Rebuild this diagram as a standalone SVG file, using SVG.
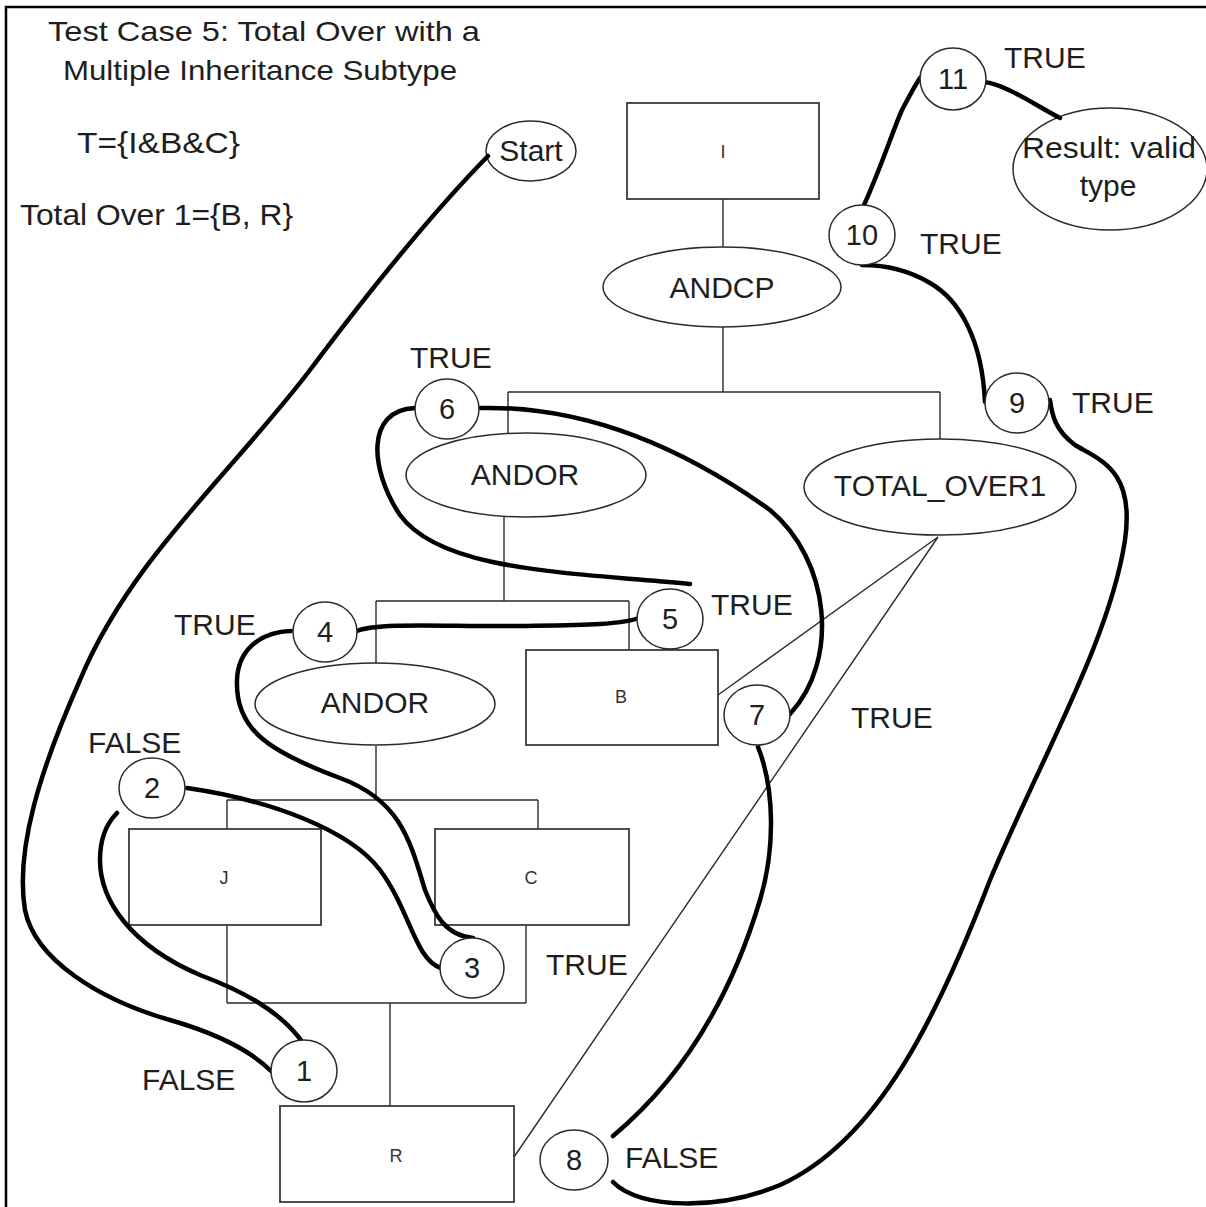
<svg xmlns="http://www.w3.org/2000/svg" width="1206" height="1207" viewBox="0 0 1206 1207">
<style>
text{font-family:"Liberation Sans",Arial,sans-serif;fill:#1e1e1e}
.big{font-size:30px}
.num{font-size:29px;text-anchor:middle}
.lab{font-size:30px;text-anchor:middle}
.box{fill:#fff;stroke:#3a3a3a;stroke-width:1.8}
.box-t{font-size:18px;text-anchor:middle;fill:#333}
.ell{fill:#fff;stroke:#2a2a2a;stroke-width:1.5}
.thin{fill:none;stroke:#2a2a2a;stroke-width:1.4}
.thick{fill:none;stroke:#000;stroke-width:4.5;stroke-linecap:round}
</style>
<rect width="1206" height="1207" fill="#fff"/>
<path d="M6,1207 V7 H1206" fill="none" stroke="#000" stroke-width="2.5"/>

<g id="title">
<text x="48" y="41" font-size="28" textLength="432" lengthAdjust="spacingAndGlyphs">Test Case 5: Total Over with a</text>
<text x="63" y="80" font-size="28" textLength="394" lengthAdjust="spacingAndGlyphs">Multiple Inheritance Subtype</text>
<text x="77" y="153" font-size="30" textLength="163" lengthAdjust="spacingAndGlyphs">T={I&amp;B&amp;C}</text>
<text x="20" y="225" font-size="30" textLength="273" lengthAdjust="spacingAndGlyphs">Total Over 1={B, R}</text>
</g>

<g id="tree-lines">
<path class="thin" d="M723,199 V247 M723,327 V392 M508,392 H940 M508,392 V437 M940,392 V439"/>
<path class="thin" d="M504,517 V601 M376,601 H629 M376,601 V663 M629,601 V650"/>
<path class="thin" d="M376,746 V800 M227,800 H538 M227,800 V829 M538,800 V829"/>
<path class="thin" d="M227,925 V1003 M526,925 V1003 M227,1003 H526 M390,1003 V1106"/>
<path class="thin" d="M938,537 L718,695 M938,537 L514,1157"/>
</g>

<g id="node-I"><rect class="box" x="627" y="103" width="192" height="96"/><text class="box-t" x="723" y="158">I</text></g>
<g id="node-ANDCP"><ellipse class="ell" cx="722" cy="287" rx="119" ry="40"/><text class="lab" x="722" y="298">ANDCP</text></g>
<g id="node-ANDOR1"><ellipse class="ell" cx="526" cy="475" rx="120" ry="42"/><text class="lab" x="525" y="485">ANDOR</text></g>
<g id="node-TOTAL_OVER1"><ellipse class="ell" cx="940" cy="487" rx="136" ry="48"/><text class="lab" x="940" y="496">TOTAL_OVER1</text></g>
<g id="node-ANDOR2"><ellipse class="ell" cx="375" cy="704" rx="120" ry="41"/><text class="lab" x="375" y="713">ANDOR</text></g>
<g id="node-B"><rect class="box" x="526" y="650" width="192" height="95"/><text class="box-t" x="621" y="703">B</text></g>
<g id="node-J"><rect class="box" x="129" y="829" width="192" height="96"/><text class="box-t" x="224" y="884">J</text></g>
<g id="node-C"><rect class="box" x="435" y="829" width="194" height="96"/><text class="box-t" x="531" y="884">C</text></g>
<g id="node-R"><rect class="box" x="280" y="1106" width="234" height="96"/><text class="box-t" x="396" y="1162">R</text></g>
<g id="node-Start"><ellipse class="ell" cx="531" cy="151" rx="45" ry="30"/><text class="lab" x="531" y="161">Start</text></g>
<g id="node-Result"><ellipse class="ell" cx="1110" cy="169" rx="97" ry="61"/><text x="1022" y="158" font-size="30" textLength="174" lengthAdjust="spacingAndGlyphs">Result: valid</text><text class="lab" x="1108" y="196">type</text></g>

<g id="path-connectors">
<path class="thick" d="M488,156 C430,215 370,290 310,370 C230,475 130,560 80,680 C40,770 15,850 25,910 C35,960 100,1000 170,1020 C215,1033 250,1050 271,1071"/>
<path class="thick" d="M303,1043 C280,1010 240,990 200,975 C130,945 100,900 100,860 C100,840 105,825 117,813"/>
<path class="thick" d="M187,788 C270,800 350,830 380,870 C410,910 415,960 441,968"/>
<path class="thick" d="M473,938 C445,935 435,915 425,890 C410,840 400,800 340,778 C270,752 235,730 237,680 C238,650 260,632 291,631"/>
<path class="thick" d="M357,631 C380,622 450,627 520,626 C580,625 620,625 639,618"/>
<path class="thick" d="M690,584 C560,572 440,570 400,515 C370,470 365,410 415,408"/>
<path class="thick" d="M480,408 C600,405 700,460 770,510 C830,560 840,660 790,714"/>
<path class="thick" d="M758,747 C775,790 775,850 760,900 C730,1000 680,1080 613,1136"/>
<path class="thick" d="M613,1182 C640,1210 720,1210 780,1185 C880,1140 940,1010 990,880 C1040,760 1110,640 1125,540 C1135,470 1100,460 1075,445 C1055,430 1052,415 1050,400"/>
<path class="thick" d="M985,402 C982,340 960,300 930,283 C905,268 880,265 862,265"/>
<path class="thick" d="M864,205 C880,170 895,125 902,110 C910,95 915,85 920,78"/>
<path class="thick" d="M984,82 C1005,84 1035,105 1060,118"/>
</g>

<g id="step-1"><ellipse class="ell" cx="304" cy="1071" rx="33" ry="31"/><text class="num" x="304" y="1081">1</text></g>
<g id="step-2"><ellipse class="ell" cx="152" cy="788" rx="33" ry="30"/><text class="num" x="152" y="798">2</text></g>
<g id="step-3"><ellipse class="ell" cx="472" cy="968" rx="32" ry="30"/><text class="num" x="472" y="978">3</text></g>
<g id="step-4"><ellipse class="ell" cx="325" cy="632" rx="32" ry="30"/><text class="num" x="325" y="642">4</text></g>
<g id="step-5"><ellipse class="ell" cx="670" cy="619" rx="33" ry="30"/><text class="num" x="670" y="629">5</text></g>
<g id="step-6"><ellipse class="ell" cx="447" cy="409" rx="32" ry="30"/><text class="num" x="447" y="419">6</text></g>
<g id="step-7"><ellipse class="ell" cx="757" cy="715" rx="33" ry="30"/><text class="num" x="757" y="725">7</text></g>
<g id="step-8"><ellipse class="ell" cx="574" cy="1160" rx="34" ry="30"/><text class="num" x="574" y="1170">8</text></g>
<g id="step-9"><ellipse class="ell" cx="1017" cy="403" rx="32" ry="30"/><text class="num" x="1017" y="413">9</text></g>
<g id="step-10"><ellipse class="ell" cx="862" cy="235" rx="33" ry="30"/><text class="num" x="862" y="245">10</text></g>
<g id="step-11"><ellipse class="ell" cx="953" cy="79" rx="33" ry="31"/><text class="num" x="953" y="89">11</text></g>

<g id="outcome-labels" class="big">
<text x="1004" y="68">TRUE</text>
<text x="920" y="254">TRUE</text>
<text x="1072" y="413">TRUE</text>
<text x="410" y="368">TRUE</text>
<text x="711" y="615">TRUE</text>
<text x="174" y="635">TRUE</text>
<text x="88" y="753">FALSE</text>
<text x="546" y="975">TRUE</text>
<text x="142" y="1090">FALSE</text>
<text x="625" y="1168">FALSE</text>
<text x="851" y="728">TRUE</text>
</g>
</svg>
